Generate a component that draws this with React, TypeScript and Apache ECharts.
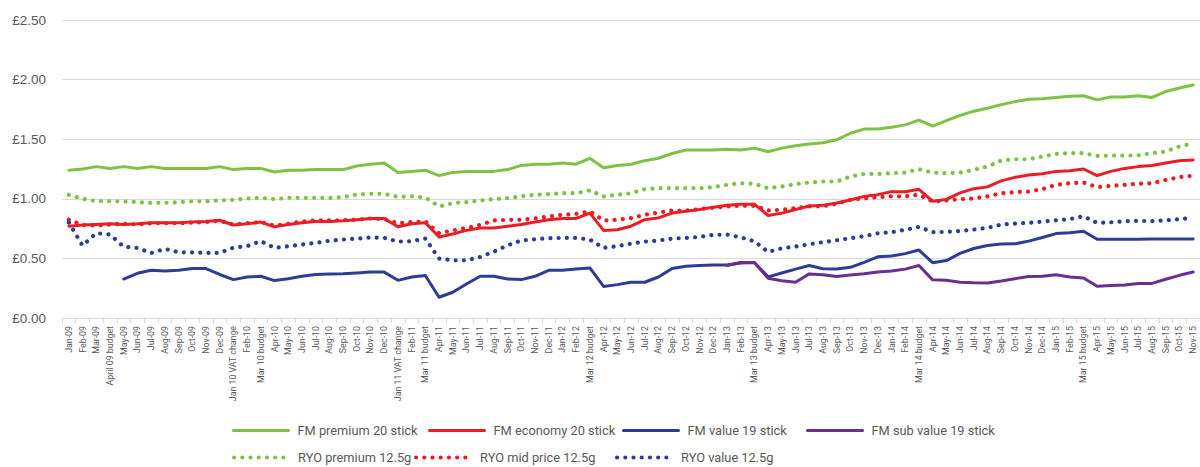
import React, { useEffect, useRef } from "react";
import * as echarts from "echarts";

const categories = [
  "Jan-09","Feb-09","Mar-09","April 09 budget","May-09","Jun-09","Jul-09","Aug-09","Sep-09","Oct-09","Nov-09","Dec-09",
  "Jan 10 VAT change","Feb-10","Mar 10 budget","Apr-10","May-10","Jun-10","Jul-10","Aug-10","Sep-10","Oct-10","Nov-10","Dec-10",
  "Jan 11 VAT change","Feb-11","Mar 11 budget","Apr-11","May-11","Jun-11","Jul-11","Aug-11","Sep-11","Oct-11","Nov-11","Dec-11",
  "Jan-12","Feb-12","Mar 12 budget","Apr-12","May-12","Jun-12","Jul-12","Aug-12","Sep-12","Oct-12","Nov-12","Dec-12",
  "Jan-13","Feb-13","Mar 13 budget","Apr-13","May-13","Jun-13","Jul-13","Aug-13","Sep-13","Oct-13","Nov-13","Dec-13",
  "Jan-14","Feb-14","Mar 14 budget","Apr-14","May-14","Jun-14","Jul-14","Aug-14","Sep-14","Oct-14","Nov-14","Dec-14",
  "Jan-15","Feb-15","Mar 15 budget","Apr-15","May-15","Jun-15","Jul-15","Aug-15","Sep-15","Oct-15","Nov-15"
];

const fmPremium = [
  1.24,1.25,1.27,1.255,1.27,1.255,1.27,1.255,1.255,1.255,1.255,1.27,
  1.245,1.255,1.255,1.225,1.24,1.24,1.245,1.245,1.245,1.275,1.29,1.30,
  1.22,1.23,1.24,1.195,1.22,1.23,1.23,1.23,1.245,1.28,1.29,1.29,
  1.30,1.29,1.34,1.26,1.28,1.29,1.32,1.34,1.38,1.41,1.41,1.41,
  1.415,1.41,1.425,1.395,1.425,1.445,1.46,1.47,1.495,1.55,1.585,1.585,
  1.60,1.62,1.66,1.61,1.655,1.70,1.735,1.76,1.79,1.815,1.835,1.84,
  1.85,1.86,1.865,1.83,1.855,1.855,1.865,1.85,1.90,1.93,1.955
];

const fmEconomy = [
  0.77,0.78,0.785,0.79,0.785,0.79,0.80,0.80,0.80,0.805,0.81,0.82,
  0.78,0.79,0.805,0.765,0.785,0.80,0.81,0.81,0.815,0.825,0.835,0.835,
  0.765,0.79,0.80,0.68,0.705,0.735,0.755,0.755,0.77,0.785,0.805,0.825,
  0.835,0.835,0.88,0.735,0.74,0.77,0.825,0.84,0.88,0.895,0.91,0.93,
  0.945,0.955,0.955,0.86,0.88,0.91,0.94,0.945,0.965,0.99,1.02,1.035,
  1.06,1.06,1.08,0.98,0.995,1.05,1.085,1.10,1.15,1.18,1.20,1.21,
  1.23,1.235,1.25,1.195,1.23,1.255,1.27,1.28,1.30,1.32,1.325
];

const fmValue = [
  null,null,null,null,0.327,0.375,0.40,0.395,0.40,0.415,0.415,0.365,
  0.322,0.344,0.35,0.314,0.33,0.35,0.364,0.37,0.372,0.378,0.385,0.385,
  0.316,0.344,0.356,0.174,0.216,0.285,0.35,0.35,0.328,0.322,0.35,0.40,
  0.40,0.412,0.42,0.265,0.28,0.30,0.30,0.344,0.415,0.434,0.44,0.445,
  0.445,0.462,0.466,0.345,0.378,0.41,0.44,0.413,0.412,0.425,0.466,0.513,
  0.52,0.54,0.57,0.464,0.482,0.542,0.583,0.608,0.62,0.622,0.645,0.675,
  0.708,0.715,0.728,0.66,0.66,0.66,0.66,0.662,0.662,0.662,0.663
];

const fmSubValue = [
  null,null,null,null,null,null,null,null,null,null,null,null,
  null,null,null,null,null,null,null,null,null,null,null,null,
  null,null,null,null,null,null,null,null,null,null,null,null,
  null,null,null,null,null,null,null,null,null,null,null,null,
  0.44,0.465,0.466,0.333,0.312,0.30,0.37,0.362,0.348,0.36,0.371,0.386,
  0.395,0.41,0.44,0.32,0.316,0.30,0.295,0.293,0.31,0.33,0.348,0.35,
  0.362,0.344,0.336,0.266,0.272,0.277,0.29,0.29,0.325,0.358,0.386
];

const ryoPremium = [
  1.034,1.00,0.98,0.98,0.978,0.972,0.966,0.966,0.972,0.978,0.98,0.986,
  0.992,1.003,1.008,0.997,1.008,1.008,1.008,1.008,1.014,1.036,1.042,1.042,
  1.017,1.02,1.011,0.936,0.964,0.972,0.986,0.997,1.006,1.02,1.034,1.039,
  1.047,1.047,1.07,1.02,1.034,1.047,1.081,1.089,1.089,1.089,1.089,1.098,
  1.117,1.131,1.126,1.089,1.103,1.123,1.137,1.145,1.145,1.187,1.209,1.209,
  1.215,1.22,1.249,1.22,1.215,1.22,1.243,1.271,1.321,1.332,1.332,1.355,
  1.377,1.383,1.383,1.36,1.362,1.362,1.365,1.383,1.397,1.44,1.466
];

const ryoMid = [
  0.825,0.78,0.775,0.785,0.79,0.785,0.795,0.795,0.795,0.80,0.805,0.815,
  0.785,0.795,0.805,0.775,0.79,0.81,0.82,0.82,0.82,0.825,0.835,0.83,
  0.795,0.805,0.81,0.712,0.735,0.754,0.782,0.818,0.824,0.824,0.835,0.852,
  0.866,0.874,0.894,0.818,0.824,0.838,0.866,0.885,0.902,0.902,0.913,0.925,
  0.936,0.941,0.941,0.902,0.908,0.922,0.936,0.938,0.958,0.992,1.003,1.014,
  1.02,1.02,1.034,0.978,0.986,0.997,1.003,1.02,1.047,1.056,1.061,1.081,
  1.117,1.131,1.137,1.098,1.109,1.117,1.126,1.131,1.159,1.182,1.193
];

const ryoValue = [
  0.80,0.607,0.712,0.70,0.598,0.588,0.545,0.58,0.552,0.55,0.546,0.546,
  0.59,0.603,0.645,0.588,0.602,0.616,0.63,0.648,0.658,0.666,0.675,0.672,
  0.641,0.644,0.666,0.498,0.484,0.484,0.512,0.557,0.61,0.65,0.661,0.669,
  0.672,0.672,0.658,0.588,0.602,0.624,0.641,0.65,0.666,0.672,0.68,0.697,
  0.70,0.677,0.644,0.554,0.585,0.599,0.619,0.636,0.652,0.669,0.686,0.711,
  0.72,0.74,0.764,0.72,0.722,0.73,0.742,0.756,0.784,0.792,0.798,0.809,
  0.82,0.83,0.854,0.798,0.803,0.812,0.815,0.812,0.82,0.829,0.84
];

const seriesNames = [
  "FM premium 20 stick",
  "FM economy 20 stick",
  "FM value 19 stick",
  "FM sub value 19 stick",
  "RYO premium 12.5g",
  "RYO mid price 12.5g",
  "RYO value 12.5g",
];

const GREEN = "#7dc243";
const RED = "#ec1c24";
const BLUE = "#2e3c98";
const PURPLE = "#6a2d91";

const FONT = "Roboto, 'Liberation Sans', sans-serif";
const TEXT = "#595959";

export default function App() {
  const ref = useRef<HTMLDivElement>(null);

  useEffect(() => {
    if (!ref.current) return;
    const chart = echarts.init(ref.current, null, { renderer: "svg" });

    const solid = (name: string, data: (number | null)[], color: string) => ({
      name,
      type: "line",
      data,
      symbol: "none",
      connectNulls: false,
      itemStyle: { color },
      lineStyle: { color, width: 3, type: "solid", cap: "round", join: "round" },
    });
    const dotted = (name: string, data: (number | null)[], color: string) => ({
      name,
      type: "line",
      data,
      symbol: "none",
      itemStyle: { color },
      lineStyle: { color, width: 4.2, type: [0.01, 8.2], cap: "round", join: "round" },
    });

    const legendPos = [
      { left: 232, top: 424, w: 3 },
      { left: 428, top: 424, w: 3 },
      { left: 622, top: 424, w: 3 },
      { left: 806, top: 424, w: 3 },
      { left: 232, top: 451, w: 4.2 },
      { left: 414, top: 451, w: 4.2 },
      { left: 615, top: 451, w: 4.2 },
    ];

    const legends = seriesNames.map((n, i) => ({
      data: [n],
      left: legendPos[i].left,
      top: legendPos[i].top,
      padding: 0,
      itemWidth: 55,
      itemHeight: 14,
      itemGap: 0,
      itemStyle: { opacity: 0 },
      lineStyle: { width: legendPos[i].w, cap: "round" },
      textStyle: { color: TEXT, fontSize: 12.8, fontFamily: FONT, padding: [0, 0, 0, 4] },
    }));

    chart.setOption({
      animation: false,
      backgroundColor: "#ffffff",
      legend: legends,
      grid: { left: 62, top: 20, width: 1140, height: 298, containLabel: false },
      xAxis: {
        type: "category",
        data: categories,
        boundaryGap: true,
        axisLine: { show: true, lineStyle: { color: "#d9d9d9", width: 1 } },
        axisTick: { show: true, length: 5, lineStyle: { color: "#d9d9d9" } },
        axisLabel: {
          interval: 0,
          rotate: 90,
          fontSize: 8.8,
          color: TEXT,
          fontFamily: FONT,
          margin: 8,
        },
      },
      yAxis: {
        type: "value",
        min: 0,
        max: 2.5,
        interval: 0.5,
        axisLine: { show: false },
        axisTick: { show: false },
        splitLine: { lineStyle: { color: "#d9d9d9", width: 1 } },
        axisLabel: {
          formatter: (v: number) => "£" + v.toFixed(2),
          fontSize: 13.5,
          color: TEXT,
          fontFamily: "'Liberation Sans', sans-serif",
          margin: 16,
        },
      },
      series: [
        solid(seriesNames[0], fmPremium, GREEN),
        solid(seriesNames[1], fmEconomy, RED),
        solid(seriesNames[2], fmValue, BLUE),
        solid(seriesNames[3], fmSubValue, PURPLE),
        dotted(seriesNames[4], ryoPremium, GREEN),
        dotted(seriesNames[5], ryoMid, RED),
        dotted(seriesNames[6], ryoValue, BLUE),
      ],
    });

    return () => chart.dispose();
  }, []);

  return (
    <div
      ref={ref}
      style={{ position: "fixed", left: 0, top: 0, width: 1200, height: 467, background: "#fff" }}
    />
  );
}
